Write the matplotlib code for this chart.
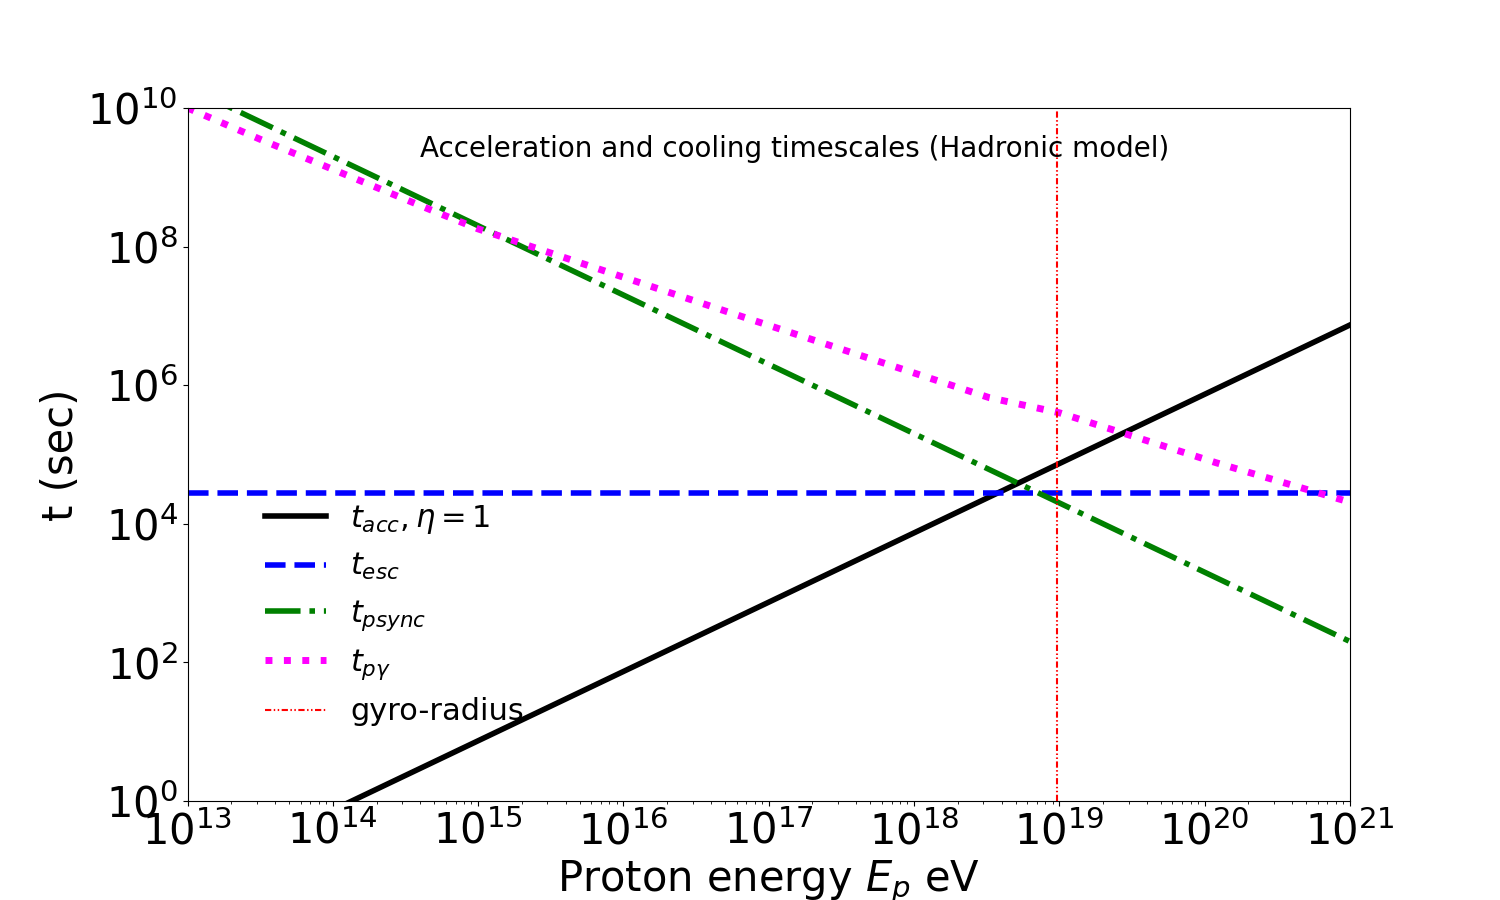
import numpy as np
import matplotlib.pyplot as plt

# proton energies (eV) and timescales (sec)
E = [1e13, 1e14, 1e15, 1e16, 1e17, 1e18, 1e19, 1e20, 1e21]
t_acc = [7.4e-2, 7.4e-1, 7.4e0, 7.4e1, 7.4e2, 7.4e3, 7.4e4, 7.4e5, 7.4e6]
t_esc = [2.8e4, 2.8e4, 2.8e4, 2.8e4, 2.8e4, 2.8e4, 2.8e4, 2.8e4, 2.8e4]
t_psync = [2e10, 2e9, 2e8, 2e7, 2e6, 2e5, 2e4, 2e3, 2e2]

E_pg = [1e13, 3.2e13, 4.7e14, 1e15, 5.9e16, 3.3e18, 1e19, 1.2e20, 1e21]
t_pg = [1e10, 3.5e9, 3.4e8, 1.8e8, 1.05e7, 6.6e5, 4e5, 7.6e4, 2.05e4]

E_gyro = 9.6e18

fig = plt.figure(figsize=(15, 9), dpi=100)
ax = fig.add_subplot(111)

ax.loglog(E, t_acc, color='black', lw=4, label=r'$t_{acc}, \eta=1$')
ax.loglog(E, t_esc, color='blue', lw=4, ls='--', label=r'$t_{esc}$')
ax.loglog(E, t_psync, color='green', lw=4, ls='-.', label=r'$t_{psync}$')
ax.loglog(E_pg, t_pg, color='magenta', lw=5, ls=':', label=r'$t_{p\gamma}$')
ax.axvline(E_gyro, color='red', lw=1.5, ls=(0, (3, 1.2, 0.7, 1.2, 0.7, 1.2)),
           label='gyro-radius')

ax.set_xlim(1e13, 1e21)
ax.set_ylim(1e0, 1e10)
ax.set_yticks([1e0, 1e2, 1e4, 1e6, 1e8, 1e10])
ax.yaxis.set_minor_locator(plt.NullLocator())
ax.tick_params(labelsize=30)

ax.set_xlabel(r'Proton energy $E_p$ eV', fontsize=30)
ax.set_ylabel('t (sec)', fontsize=30)
ax.text(0.2, 0.941, 'Acceleration and cooling timescales (Hadronic model)',
        transform=ax.transAxes, fontsize=20, va='center', ha='left')

ax.legend(loc='lower left', bbox_to_anchor=(0.056, 0.09), borderaxespad=0,
          frameon=False, fontsize=22)

fig.savefig('out.png')
